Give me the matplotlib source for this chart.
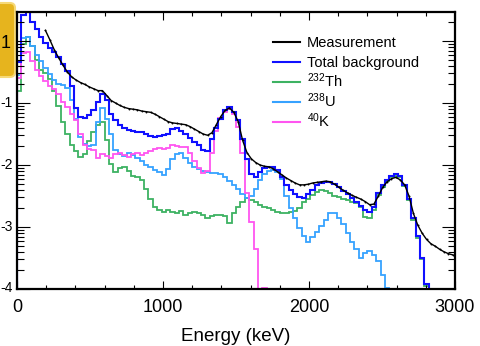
import matplotlib
matplotlib.use('Agg')
import matplotlib.pyplot as plt
import numpy as np
from matplotlib.patches import FancyBboxPatch
from matplotlib.lines import Line2D
from matplotlib.ticker import MultipleLocator, FixedLocator, LogLocator, NullFormatter
import matplotlib.transforms as mtransforms

plt.rcParams['font.family'] = ['Liberation Sans', 'DejaVu Sans']
plt.rcParams['mathtext.fontset'] = 'custom'
plt.rcParams['mathtext.rm'] = 'Liberation Sans'
plt.rcParams['mathtext.it'] = 'Liberation Sans:italic'
plt.rcParams['mathtext.bf'] = 'Liberation Sans:bold'

# ---------------- data (log10 of counts per 30 keV bin, 0..3000 keV) -------------
bin_width_kev = 30
energy_max_kev = 3000

total_log10 = [
    -0.34, 0.42, 0.48, 0.30, 0.20, 0.06, -0.03, -0.12, -0.17, -0.26,
    -0.37, -0.48, -0.72, -1.08, -1.22, -1.24, -1.20, -1.12, -0.98, -0.85,
    -0.95, -1.17, -1.28, -1.36, -1.40, -1.43, -1.45, -1.46, -1.47, -1.50,
    -1.53, -1.55, -1.54, -1.52, -1.50, -1.42, -1.40, -1.45, -1.50, -1.57,
    -1.63, -1.68, -1.76, -1.78, -1.58, -1.40, -1.25, -1.12, -1.07, -1.15,
    -1.28, -1.58, -1.90, -2.14, -2.19, -2.12, -2.05, -2.03, -2.04, -2.08,
    -2.20, -2.33, -2.41, -2.47, -2.52, -2.53, -2.46, -2.40, -2.33, -2.29,
    -2.28, -2.27, -2.31, -2.36, -2.42, -2.46, -2.53, -2.60, -2.66, -2.72,
    -2.76, -2.68, -2.45, -2.32, -2.24, -2.17, -2.15, -2.18, -2.32, -2.55,
    -2.86, -3.15, -3.50, -3.92, -6.0, -6.0, -6.0, -6.0, -6.0, -6.0,
]

th232_log10 = [
    -0.80, -0.05, 0.06, -0.08, -0.30, -0.47, -0.52, -0.62, -0.80, -1.05,
    -1.30, -1.50, -1.68, -1.78, -1.87, -1.82, -1.62, -1.47, -1.35, -1.30,
    -1.60, -1.98, -2.12, -2.05, -2.03, -2.10, -2.17, -2.20, -2.24, -2.38,
    -2.55, -2.67, -2.73, -2.75, -2.73, -2.76, -2.78, -2.74, -2.80, -2.78,
    -2.76, -2.77, -2.80, -2.85, -2.83, -2.80, -2.81, -2.83, -2.93, -2.78,
    -2.67, -2.60, -2.53, -2.56, -2.60, -2.64, -2.67, -2.70, -2.72, -2.76,
    -2.78, -2.77, -2.76, -2.74, -2.70, -2.60, -2.55, -2.48, -2.43, -2.41,
    -2.42, -2.45, -2.50, -2.52, -2.55, -2.57, -2.60, -2.62, -2.67, -2.84,
    -2.85, -2.72, -2.48, -2.35, -2.26, -2.19, -2.17, -2.20, -2.34, -2.57,
    -2.88, -3.17, -3.52, -3.95, -6.0, -6.0, -6.0, -6.0, -6.0, -6.0,
]

u238_log10 = [
    -0.55, 0.05, 0.07, -0.08, -0.22, -0.33, -0.44, -0.54, -0.63, -0.69,
    -0.71, -0.75, -0.95, -1.25, -1.55, -1.66, -1.70, -1.68, -1.30, -1.08,
    -1.25, -1.50, -1.75, -1.83, -1.86, -1.81, -1.84, -1.88, -1.94, -2.00,
    -2.04, -2.08, -2.12, -2.16, -2.06, -1.90, -1.83, -1.81, -1.88, -1.97,
    -2.03, -2.07, -2.09, -2.12, -2.13, -2.13, -2.15, -2.20, -2.26, -2.32,
    -2.38, -2.46, -2.53, -2.50, -2.38, -2.24, -2.14, -2.09, -2.08, -2.12,
    -2.22, -2.50, -2.70, -2.85, -3.02, -3.15, -3.24, -3.16, -3.08, -2.98,
    -2.88, -2.78, -2.77, -2.85, -2.95, -3.10, -3.24, -3.36, -3.50, -3.42,
    -3.38, -3.45, -3.55, -3.78, -3.98, -6.0, -6.0, -6.0, -6.0, -6.0,
    -6.0, -6.0, -6.0, -6.0, -6.0, -6.0, -6.0, -6.0, -6.0, -6.0,
]

k40_log10 = [
    -0.60, -0.20, -0.18, -0.32, -0.46, -0.56, -0.65, -0.73, -0.78, -0.86,
    -0.98, -1.07, -1.17, -1.28, -1.50, -1.68, -1.74, -1.76, -1.88, -1.82,
    -1.85, -1.89, -1.82, -1.81, -1.84, -1.87, -1.82, -1.80, -1.84, -1.80,
    -1.78, -1.74, -1.73, -1.74, -1.72, -1.68, -1.70, -1.71, -1.71, -1.80,
    -1.93, -2.05, -2.13, -2.10, -1.80, -1.45, -1.24, -1.14, -1.09, -1.17,
    -1.38, -1.80, -2.45, -2.92, -3.35, -6.0, -3.98, -6.0, -6.0, -6.0,
    -6.0, -6.0, -6.0, -6.0, -6.0, -6.0, -6.0, -6.0, -6.0, -6.0,
    -6.0, -6.0, -6.0, -6.0, -6.0, -6.0, -6.0, -6.0, -6.0, -6.0,
    -6.0, -6.0, -6.0, -6.0, -6.0, -6.0, -6.0, -6.0, -6.0, -6.0,
    -6.0, -6.0, -6.0, -6.0, -6.0, -6.0, -6.0, -6.0, -6.0, -6.0,
]

# measurement (nan = not shown)
meas_log10 = [
    np.nan, np.nan, np.nan, np.nan, np.nan, np.nan, 0.17, 0.02, -0.14, -0.27,
    -0.39, -0.50, -0.58, -0.63, -0.67, -0.70, -0.74, -0.77, -0.80, -0.80,
    -0.88, -0.96, -1.00, -1.04, -1.07, -1.09, -1.10, -1.11, -1.13, -1.14,
    -1.15, -1.18, -1.22, -1.26, -1.30, -1.32, -1.33, -1.34, -1.35, -1.38,
    -1.42, -1.46, -1.50, -1.52, -1.48, -1.35, -1.22, -1.12, -1.08, -1.15,
    -1.30, -1.60, -1.80, -1.90, -1.96, -2.00, -2.02, -2.03, -2.06, -2.11,
    -2.16, -2.21, -2.25, -2.29, -2.32, -2.32, -2.31, -2.29, -2.28, -2.27,
    -2.26, -2.27, -2.31, -2.36, -2.41, -2.45, -2.49, -2.52, -2.55, -2.59,
    -2.64, -2.63, -2.50, -2.36, -2.27, -2.22, -2.20, -2.24, -2.32, -2.50,
    -2.78, -2.97, -3.10, -3.20, -3.27, -3.31, -3.36, -3.40, -3.43, -3.45,
]

x_tick_values = [0, 1000, 2000, 3000]
x_tick_labels = ['0', '1000', '2000', '3000']
y_tick_values = [1e-4, 1e-3, 1e-2, 1e-1, 1.0]
y_tick_labels = ['-4', '-3', '-2', '-1', '1']

legend_labels = ['Measurement', 'Total background', r'$^{232}$Th', r'$^{238}$U', r'$^{40}$K']

# ---------------- plotting -------------
edges = np.arange(0, energy_max_kev + bin_width_kev, bin_width_kev)
centers = 0.5 * (edges[:-1] + edges[1:])

W, H = 481, 346
fig = plt.figure(figsize=(W / 100, H / 100), dpi=100)

# decorative golden badge partially visible at top-left
badge = FancyBboxPatch((-0.10, 2.69), 0.25, 0.74,
                       boxstyle='round,pad=0,rounding_size=0.05',
                       transform=fig.dpi_scale_trans, facecolor='#e6b41e',
                       edgecolor='#f6d978', linewidth=1.5, zorder=-1)
fig.patches.append(badge)

ax = fig.add_axes([17 / W, 57 / H, 438 / W, 277 / H])

c_th = '#3db262'
c_u = '#36a2ff'
c_k = '#ff55f0'
c_tot = '#1010ff'

h_th = ax.stairs(10.0 ** np.array(th232_log10), edges, color=c_th, lw=1.3)
h_u = ax.stairs(10.0 ** np.array(u238_log10), edges, color=c_u, lw=1.3)
h_k = ax.stairs(10.0 ** np.array(k40_log10), edges, color=c_k, lw=1.3)
h_tot = ax.stairs(10.0 ** np.array(total_log10), edges, color=c_tot, lw=1.5)
meas = np.array(meas_log10)
h_meas, = ax.plot(centers, 10.0 ** meas, color='black', lw=1.0,
                  marker='o', ms=1.4, mew=0)

ax.set_yscale('log')
ax.set_xlim(0, 3000)
ax.set_ylim(1e-4, 10 ** 0.468)

ax.xaxis.set_major_locator(FixedLocator(x_tick_values))
ax.set_xticklabels(x_tick_labels)
ax.xaxis.set_minor_locator(MultipleLocator(200))
ax.yaxis.set_major_locator(FixedLocator(y_tick_values))
ax.set_yticklabels(y_tick_labels)
ax.yaxis.set_minor_locator(LogLocator(base=10, subs=np.arange(2, 10), numticks=20))
ax.yaxis.set_minor_formatter(NullFormatter())

ax.tick_params(which='both', direction='in', top=True, right=True, width=0.8)
ax.tick_params(axis='x', which='major', length=5.8, labelsize=13, pad=7)
ax.tick_params(axis='x', which='minor', length=2.9)
ax.tick_params(axis='y', which='major', length=9.4, labelsize=10, pad=3)
ax.tick_params(axis='y', which='minor', length=5)

for sp in ax.spines.values():
    sp.set_linewidth(1.6)

# exponent-style labels slightly raised, plain "1" larger
for lab in ax.get_yticklabels():
    if lab.get_text() == '1':
        lab.set_fontsize(13)
        lab.set_transform(lab.get_transform() +
                          mtransforms.ScaledTranslation(-0.02, 0, fig.dpi_scale_trans))
    else:
        lab.set_transform(lab.get_transform() +
                          mtransforms.ScaledTranslation(0, 0.02, fig.dpi_scale_trans))

ax.set_xlabel('Energy (keV)', fontsize=13.5, labelpad=9)

# legend (rows evenly spaced as in the reference)
handles = [h_meas, h_tot, h_th, h_u, h_k]
colors = ['black', c_tot, c_th, c_u, c_k]
row_y = [42, 62, 82, 102, 122]
for lbl, col, yc in zip(legend_labels, colors, row_y):
    fig.add_artist(Line2D([273 / W, 300 / W], [1 - yc / H, 1 - yc / H],
                          transform=fig.transFigure, color=col, lw=1.5))
    fig.text(307 / W, 1 - (yc + 5.2) / H, lbl, fontsize=10.5,
             ha='left', va='baseline')

fig.savefig('out.png', dpi=100)
